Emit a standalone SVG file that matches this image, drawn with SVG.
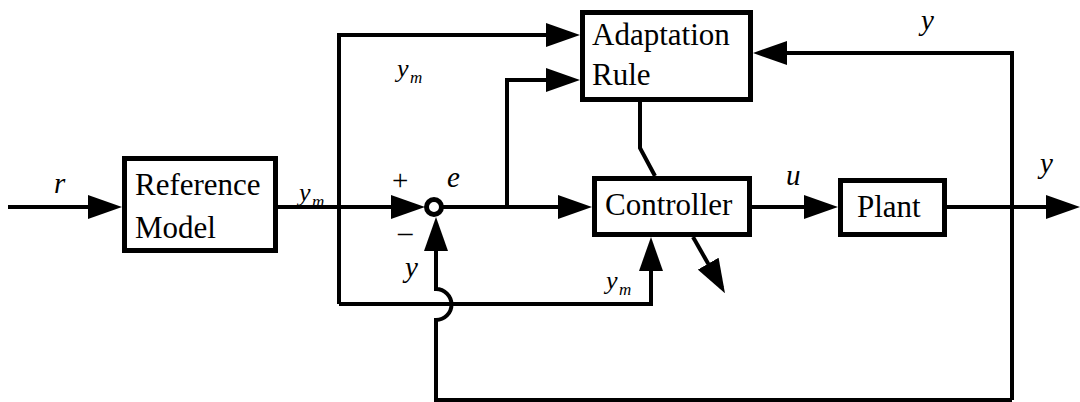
<svg xmlns="http://www.w3.org/2000/svg" width="1080" height="402" viewBox="0 0 1080 402">
<defs>
<marker id="ah" markerUnits="userSpaceOnUse" viewBox="0 0 34 24" refX="28" refY="12" markerWidth="34" markerHeight="24" orient="auto">
<path d="M0,0 L34,12 L0,24 Z" fill="#000"/>
</marker>
</defs>
<rect width="1080" height="402" fill="#fff"/>
<g id="connectors" fill="none" stroke="#000" stroke-width="4">
<path d="M8,207 H116" marker-end="url(#ah)"/>
<path d="M278,207 H419" marker-end="url(#ah)"/>
<path d="M339,304 V35 H574" marker-end="url(#ah)"/>
<path d="M442,207 H586" marker-end="url(#ah)"/>
<path d="M507,207 V80 H574" marker-end="url(#ah)"/>
<path d="M752,207 H832" marker-end="url(#ah)"/>
<path d="M947,207 H1074" marker-end="url(#ah)"/>
<path d="M1012,400 V53 H759" marker-end="url(#ah)"/>
<path d="M640,102 V148 L655,176"/>
<path d="M693,237 L722,288" marker-end="url(#ah)"/>
<path d="M339,304 H651 V243" marker-end="url(#ah)"/>
<path d="M1012,400 H436 V320 A15.5,15.5 0 0 0 436,289 V223" marker-end="url(#ah)"/>
</g>
<g id="sum"><circle cx="434" cy="207" r="7.5" fill="#fff" stroke="#000" stroke-width="5"/></g>
<g id="reference-model">
<rect x="124.5" y="158.5" width="151" height="92" fill="#fff" stroke="#000" stroke-width="5"/>
<text x="135" y="195" font-family="Times New Roman" font-size="31">Reference</text>
<text x="135" y="238" font-family="Times New Roman" font-size="31">Model</text>
</g>
<g id="adaptation-rule">
<rect x="582.5" y="12.5" width="168" height="87" fill="#fff" stroke="#000" stroke-width="5"/>
<text x="592" y="45" font-family="Times New Roman" font-size="31">Adaptation</text>
<text x="592" y="85" font-family="Times New Roman" font-size="31">Rule</text>
</g>
<g id="controller">
<rect x="594.5" y="178.5" width="155" height="56" fill="#fff" stroke="#000" stroke-width="5"/>
<text x="605" y="215" font-family="Times New Roman" font-size="31">Controller</text>
</g>
<g id="plant">
<rect x="840.5" y="180.5" width="104" height="54" fill="#fff" stroke="#000" stroke-width="5"/>
<text x="857" y="217" font-family="Times New Roman" font-size="31">Plant</text>
</g>
<g id="labels">
<text x="54" y="193" font-family="Times New Roman" font-style="italic" font-size="29">r</text>
<text x="299" y="201" font-family="Times New Roman" font-style="italic" font-size="26">y</text>
<text x="312" y="207" font-family="Times New Roman" font-style="italic" font-size="17">m</text>
<text x="397" y="77" font-family="Times New Roman" font-style="italic" font-size="26">y</text>
<text x="410" y="83" font-family="Times New Roman" font-style="italic" font-size="17">m</text>
<text x="606" y="289" font-family="Times New Roman" font-style="italic" font-size="26">y</text>
<text x="619" y="295" font-family="Times New Roman" font-style="italic" font-size="17">m</text>
<text x="392" y="190" font-family="Times New Roman" font-size="29">+</text>
<text x="398" y="242" font-family="Times New Roman" font-size="29">–</text>
<text x="447" y="187" font-family="Times New Roman" font-style="italic" font-size="29">e</text>
<text x="405" y="277" font-family="Times New Roman" font-style="italic" font-size="29">y</text>
<text x="786" y="185" font-family="Times New Roman" font-style="italic" font-size="29">u</text>
<text x="921" y="30" font-family="Times New Roman" font-style="italic" font-size="29">y</text>
<text x="1040" y="173" font-family="Times New Roman" font-style="italic" font-size="29">y</text>
</g>
</svg>
